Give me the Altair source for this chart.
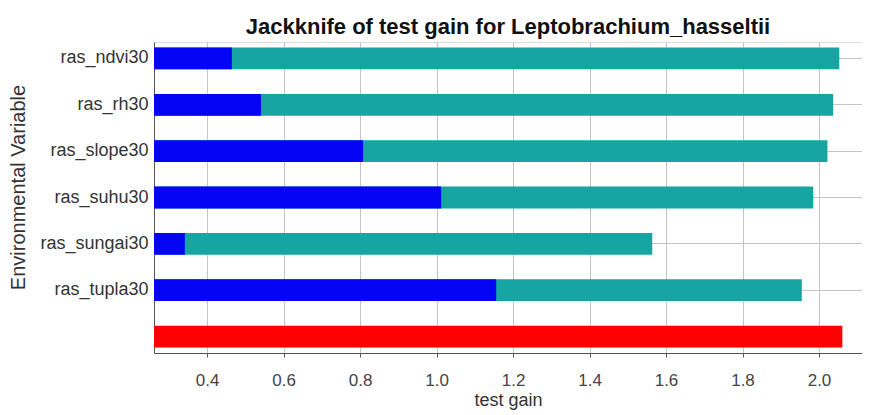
import altair as alt
import pandas as pd

variables = ["ras_ndvi30", "ras_rh30", "ras_slope30", "ras_suhu30", "ras_sungai30", "ras_tupla30"]
without_gain = [2.053, 2.037, 2.022, 1.985, 1.564, 1.955]
only_gain = [0.465, 0.541, 0.808, 1.012, 0.342, 1.156]
all_label = "With all variables"
all_gain = 2.061
x_ticks = [0.4, 0.6, 0.8, 1.0, 1.2, 1.4, 1.6, 1.8, 2.0]
x_domain = [0.2614, 2.1124]

order = variables + [all_label]
rows = []
for v, w, o in zip(variables, without_gain, only_gain):
    rows.append({"var": v, "kind": "Without variable", "gain": w})
    rows.append({"var": v, "kind": "With only variable", "gain": o})
rows.append({"var": all_label, "kind": "With all variables", "gain": all_gain})
df = pd.DataFrame(rows)

FONT = "Liberation Sans"

xscale = alt.Scale(domain=x_domain, nice=False, zero=False)
yscale = alt.Scale(domain=order, paddingInner=0.53, paddingOuter=0.12)

x_enc = alt.X(
    "gain:Q",
    scale=xscale,
    title="test gain",
    axis=alt.Axis(
        values=x_ticks, format=".1f", labelFont=FONT, labelFontSize=17,
        labelColor="#444444", tickSize=4, tickColor="#555555", labelPadding=15,
        titleFont=FONT, titleFontSize=18, titleFontWeight="normal",
        titleColor="#333333", titlePadding=3, grid=True, gridColor="#c4c4c4",
        domainColor="#555555",
    ),
)
x2_enc = alt.X2(datum=0)
y_enc = alt.Y(
    "var:N",
    scale=yscale,
    sort=order,
    title="Environmental Variable",
    axis=alt.Axis(
        labelFont=FONT, labelFontSize=18, labelColor="#333333", labelPadding=6,
        ticks=False, domainColor="#555555",
        labelExpr="datum.value == 'With all variables' ? '' : datum.value",
        grid=True,
        gridColor={"condition": {"test": "datum.value == 'With all variables'", "value": "transparent"}, "value": "#c4c4c4"},
        titleFont=FONT, titleFontSize=20, titleFontWeight="normal",
        titleColor="#333333", titleX=-136, titleY=145, titleAlign="center",
        titleBaseline="middle",
    ),
)

base = alt.Chart(df)

teal = base.transform_filter(alt.datum.kind == "Without variable").mark_bar(
    color="#16a5a3", clip=True
).encode(x=x_enc, x2=x2_enc, y=y_enc)

blue = base.transform_filter(alt.datum.kind == "With only variable").mark_bar(
    color="#0505f5", clip=True
).encode(x=x_enc, x2=x2_enc, y=y_enc)

red = base.transform_filter(alt.datum.kind == "With all variables").mark_bar(
    color="#ff0000", clip=True
).encode(x=x_enc, x2=x2_enc, y=y_enc)

chart = alt.layer(teal, blue, red).properties(
    width=708,
    height=311,
    title=alt.TitleParams(
        "Jackknife of test gain for Leptobrachium_hasseltii",
        font=FONT, fontSize=22, fontWeight="bold", color="#111111",
        anchor="middle", baseline="alphabetic", offset=10, frame="group",
        dy=24,
    ),
    autosize=alt.AutoSizeParams(type="none"),
    padding={"left": 146, "top": 34, "right": 0, "bottom": 60},
).configure_view(stroke="#555555", strokeWidth=1).configure(background="white")

chart.save("out.html", embed_options={"renderer": "svg", "actions": False})
